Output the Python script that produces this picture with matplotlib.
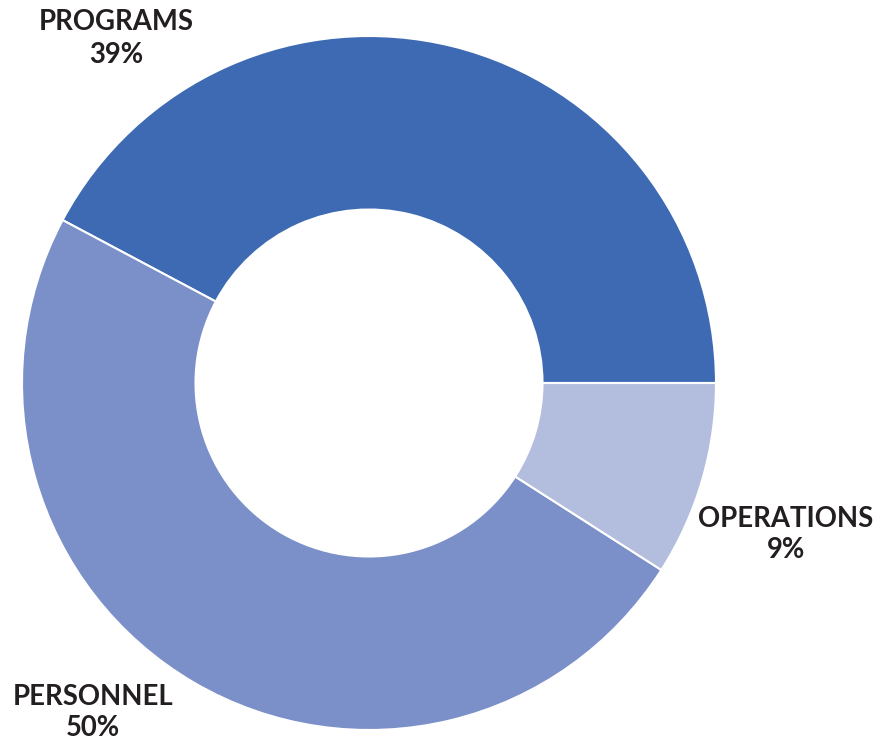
import matplotlib
matplotlib.use("Agg")
import matplotlib.pyplot as plt

categories = ["PROGRAMS", "PERSONNEL", "OPERATIONS"]
label_pcts = ["39%", "50%", "9%"]
# slice sizes as drawn in the picture (degrees of arc, out of 360)
slice_values = [152.0, 175.4, 32.6]
colors = ["#3D6AB3", "#7B8FC8", "#B3BEDF"]

W, H = 890, 743
fig = plt.figure(figsize=(W / 100, H / 100), dpi=100)
ax = fig.add_axes([0, 0, 1, 1])

cx, cy, R = 369, H - 383, 347
ax.pie(slice_values, colors=colors, startangle=0, counterclock=True,
       center=(cx, cy), radius=R, frame=True,
       wedgeprops=dict(width=R * 0.5, edgecolor="white", linewidth=1.5))
ax.set_xlim(0, W)
ax.set_ylim(0, H)
ax.set_aspect("equal")
ax.axis("off")

label_pos = {"PROGRAMS": (116, 22, 55), "PERSONNEL": (93, 697, 728),
             "OPERATIONS": (786, 519, 550)}
for cat, pct in zip(categories, label_pcts):
    x, y1, y2 = label_pos[cat]
    ax.text(x, H - y1, cat, ha="center", va="center", fontsize=19.8,
            fontweight="bold", family="Lato", color="#231F20")
    ax.text(x, H - y2, pct, ha="center", va="center", fontsize=19.8,
            fontweight="bold", family="Lato", color="#231F20")

fig.savefig("out.png", dpi=100)
